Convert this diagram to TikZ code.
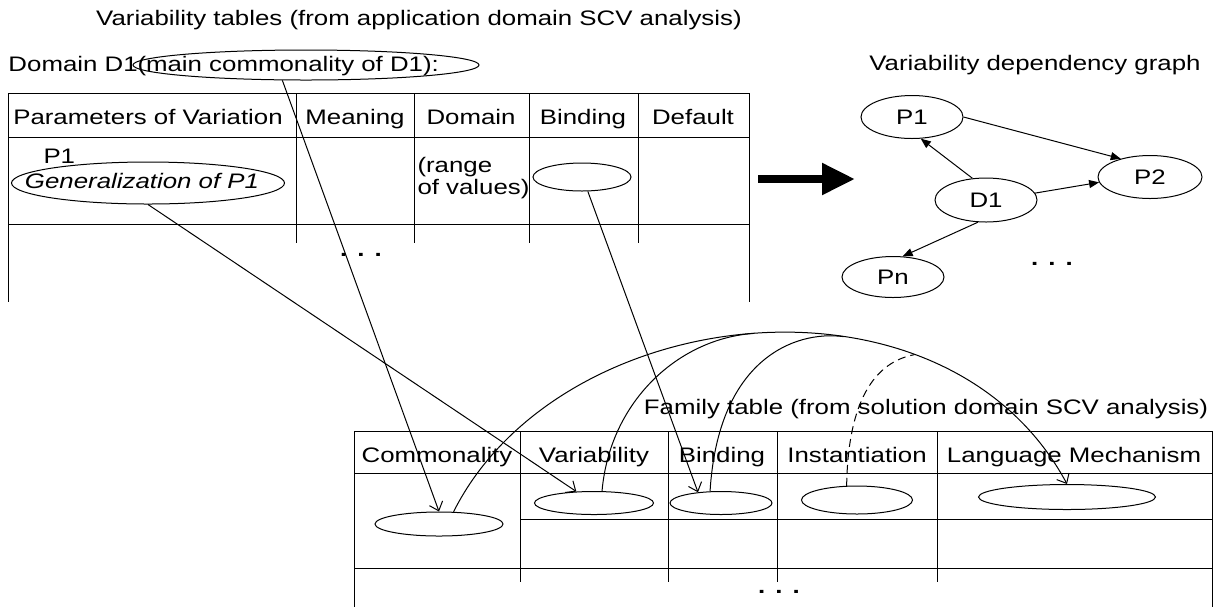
\documentclass[tikz,border=0pt]{standalone}
\usepackage{fontspec}
\setmainfont{Liberation Sans}[FakeStretch=1.23]
\usetikzlibrary{arrows.meta,shapes.geometric,positioning}

\tikzset{
  txt/.style={inner sep=0pt},
  oval/.style={draw, ellipse, inner sep=0pt},
  gnode/.style={draw, ellipse, inner sep=0pt, minimum width=51pt, minimum height=21.5pt},
  rule/.style={line width=0.5pt},
  link/.style={-{Straight Barb[length=4pt,width=7pt]}},
  dep/.style={-{Triangle[length=5pt,width=4pt]}},
}

\begin{document}
\begin{tikzpicture}[x=0.5pt,y=-0.5pt,font=\fontsize{10.5}{11}\selectfont,line width=0.5pt]
  \useasboundingbox (0,0) rectangle (1215,607);

  \node[txt, anchor=base] (ttop) at (419,25) {Variability tables (from application domain SCV analysis)};
  \node[txt, anchor=base west] (dlbl) at (8,71) {Domain D1};
  \node[txt, anchor=base west] (clbl) at (137,71) {(main commonality of D1):};
  \node[oval, minimum width=173pt, minimum height=15pt] (dcomm) at (306,65) {};

  % variability table
  \draw[rule] (8,93) -- (749,93) (8,137) -- (749,137) (8,224) -- (749,224);
  \draw[rule] (8,93) -- (8,302) (749,93) -- (749,302);
  \foreach \x in {296,414,529,638}
    \draw[rule] (\x,93) -- (\x,243);
  \foreach \x/\t [count=\i] in {148/Parameters of Variation, 355/Meaning, 471/Domain, 583/Binding, 693/Default}
    \node[txt, anchor=base] (th\i) at (\x,124) {\t};
  \node[txt, anchor=base west] (p1lbl) at (43,163) {P1};
  \node[txt, anchor=base] (genlbl) at (142,188) {\itshape Generalization of P1};
  \node[oval, minimum width=136.5pt, minimum height=21pt] (gen) at (148,183) {};
  \node[txt, anchor=north west, align=left] (rng) at (417,157) {(range\\of values)};
  \node[oval, minimum width=49pt, minimum height=14pt] (bnd) at (582,177) {};
  \node[txt, anchor=base] (dots1) at (361,256) {\bfseries .\hspace{5pt}.\hspace{5pt}.};

  % dependency graph
  \coordinate (bigA) at (758,179);
  \coordinate (bigB) at (855,179);
  \draw[line width=4pt, -{Triangle[length=16.5pt,width=15pt]}] (bigA) -- (bigB);
  \node[txt, anchor=base] (tgraph) at (1035,70) {Variability dependency graph};
  \node[gnode] (gP1) at (912,117) {P1};
  \node[gnode, minimum width=52pt] (gP2) at (1150,177) {P2};
  \node[gnode, minimum height=22pt] (gD1) at (986,200) {D1};
  \node[gnode, minimum height=20.5pt] (gPn) at (893,277) {Pn};
  \node[txt, anchor=base] (dots2) at (1052,265) {\bfseries .\hspace{5pt}.\hspace{5pt}.};
  \draw[dep] (gP1.east) -- (gP2.148);
  \draw[dep] (gD1.122) -- (gP1.292);
  \draw[dep] (gD1.8) -- (gP2.186);
  \draw[dep] (gD1.250) -- (gPn.65);

  % family table
  \node[txt, anchor=base] (tfam) at (926,414) {Family table (from solution domain SCV analysis)};
  \draw[rule] (354,431) -- (1212,431) (354,473) -- (1212,473) (520,519) -- (1212,519) (354,568) -- (1212,568);
  \draw[rule] (354,431) -- (354,607) (1212,431) -- (1212,607);
  \foreach \x in {520,668,777,937}
    \draw[rule] (\x,431) -- (\x,582);
  \foreach \x/\t [count=\i] in {437/Commonality, 594/Variability, 722/Binding, 857/Instantiation, 1074/Language Mechanism}
    \node[txt, anchor=base] (fh\i) at (\x,462) {\t};
  \node[oval, minimum width=64pt, minimum height=12pt] (fcomm) at (439,524) {};
  \node[oval, minimum width=59.5pt, minimum height=11.5pt] (fvar) at (594,503) {};
  \node[oval, minimum width=51pt, minimum height=11.5pt] (fbind) at (721,503) {};
  \node[oval, minimum width=55.5pt, minimum height=14pt] (finst) at (857,500) {};
  \node[oval, minimum width=88.5pt, minimum height=12.5pt] (flang) at (1067,497) {};
  \node[txt, anchor=base] (dots3) at (779,593) {\bfseries .\hspace{5pt}.\hspace{5pt}.};

  % mappings
  \draw[link] (dcomm.213) -- (fcomm.north);
  \draw[link] (gen.south) -- (fvar.147);
  \draw[link] (bnd.292) -- (fbind.155);
  \draw[link] (fcomm.40) .. controls (560,300) and (945,257) .. (flang.north)
    coordinate[pos=0.5] (mv) coordinate[pos=0.62] (mb) coordinate[pos=0.72] (mi);
  \draw (fvar.56) .. controls (610,400) and (680,338) .. (mv);
  \draw (fbind.133) .. controls (718,360) and (794,330) .. (mb);
  \draw[dash pattern=on 4pt off 2.5pt] (finst.126) .. controls (848,400) and (875,362) .. (mi);
\end{tikzpicture}
\end{document}
